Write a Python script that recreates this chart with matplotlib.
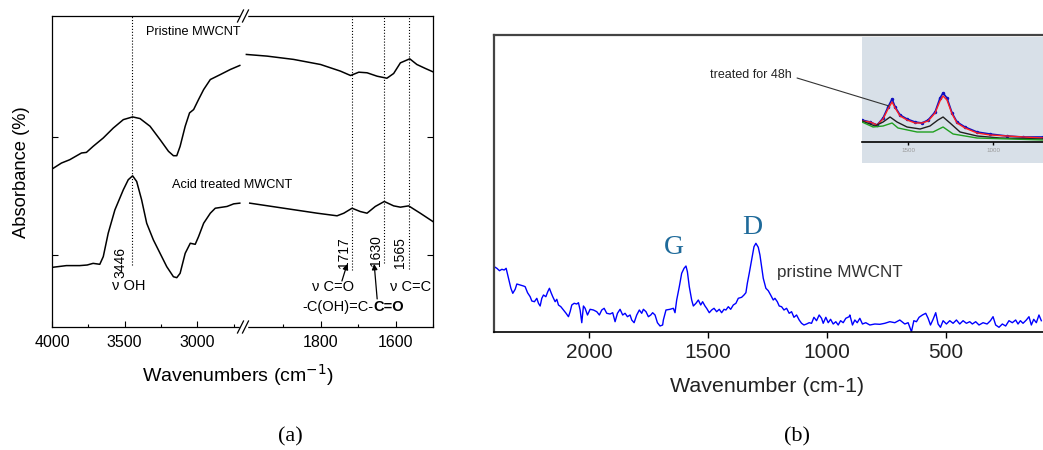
import matplotlib
matplotlib.use("Agg")
import matplotlib.pyplot as plt
from matplotlib.lines import Line2D

plt.rcParams['font.family'] = ['Liberation Sans', 'DejaVu Sans']

# ---- (a) FTIR data, two pieces of the broken wavenumber axis ----
pristine_wn_hi = [4000, 3935, 3878, 3797, 3763, 3717, 3647, 3578, 3509, 3445, 3394, 3325, 3256,
                  3198, 3164, 3141, 3118, 3083, 3053, 3025, 2991, 2956, 2910, 2841, 2772, 2707]
pristine_hi = [1.726, 1.777, 1.805, 1.862, 1.867, 1.918, 1.989, 2.073, 2.144, 2.167, 2.153, 2.088, 1.975,
               1.876, 1.839, 1.839, 1.918, 2.088, 2.201, 2.229, 2.314, 2.398, 2.483, 2.525, 2.568, 2.602]
pristine_wn_lo = [1998, 1943, 1872, 1800, 1747, 1720, 1698, 1676, 1649, 1623, 1605, 1587, 1562, 1543, 1520, 1500]
pristine_lo = [2.695, 2.681, 2.653, 2.610, 2.554, 2.517, 2.545, 2.540, 2.511, 2.494, 2.534, 2.624, 2.658,
               2.610, 2.576, 2.548]

acid_wn_hi = [4000, 3901, 3809, 3758, 3717, 3671, 3647, 3613, 3567, 3509, 3475, 3445, 3417, 3383, 3348,
              3302, 3256, 3210, 3164, 3141, 3118, 3083, 3048, 3014, 2991, 2956, 2910, 2876, 2795, 2749, 2707]
acid_hi = [0.895, 0.910, 0.910, 0.915, 0.929, 0.921, 0.986, 1.184, 1.381, 1.551, 1.636, 1.669, 1.621, 1.466,
           1.268, 1.127, 1.014, 0.901, 0.816, 0.808, 0.845, 1.014, 1.099, 1.090, 1.155, 1.268, 1.353, 1.395,
           1.410, 1.432, 1.438]
acid_wn_lo = [1989, 1898, 1809, 1756, 1738, 1716, 1694, 1676, 1654, 1630, 1605, 1587, 1565, 1534, 1500]
acid_lo = [1.438, 1.395, 1.353, 1.331, 1.353, 1.395, 1.367, 1.353, 1.410, 1.452, 1.415, 1.404, 1.415,
           1.353, 1.282]

band_hi = [3446]
band_lo = [1717, 1630, 1565]
band_bottom = {3446: 0.915, 1717: 0.873, 1630: 0.932, 1565: 0.88}

# ---- (b) Raman data ----
raman_wn = [2399, 2388, 2377, 2367, 2357, 2349, 2339, 2329, 2321, 2311, 2304, 2290, 2276, 2269, 2259,
            2248, 2241, 2230, 2220, 2213, 2206, 2199, 2192, 2182, 2174, 2167, 2160, 2153, 2143, 2136,
            2129, 2119, 2108, 2097, 2087, 2080, 2073, 2063, 2052, 2045, 2038, 2031, 2024, 2017, 2007,
            1996, 1982, 1968, 1957, 1947, 1937, 1926, 1912, 1901, 1891, 1881, 1870, 1859, 1849, 1839,
            1828, 1821, 1811, 1800, 1789, 1779, 1772, 1761, 1751, 1741, 1733, 1723, 1713, 1702, 1691,
            1688, 1677, 1660, 1646, 1639, 1632, 1621, 1611, 1601, 1593, 1587, 1579, 1569, 1562, 1551,
            1541, 1531, 1523, 1513, 1506, 1495, 1485, 1475, 1464, 1453, 1443, 1433, 1425, 1415, 1405,
            1394, 1383, 1373, 1359, 1349, 1341, 1335, 1327, 1317, 1307, 1299, 1289, 1282, 1275, 1268,
            1257, 1247, 1237, 1226, 1219, 1209, 1201, 1191, 1181, 1170, 1159, 1149, 1139, 1128, 1117,
            1107, 1097, 1086, 1075, 1065, 1055, 1044, 1033, 1023, 1016, 1005, 995, 985, 974, 963,
            953, 943, 932, 921, 907,
            904, 893, 883, 873, 862, 851, 837, 820, 799, 778, 757, 736, 715, 694, 673,
            659, 645, 635, 624, 613, 599, 585, 575, 565, 554, 543, 533, 523, 512, 498,
            484, 470, 456, 442, 428, 414, 400, 389, 375, 361, 344, 327, 313, 302, 291,
            277, 263, 249, 235, 221, 207, 197, 187, 176, 162, 151, 141, 131, 120, 109, 99]
raman_int = [65.3, 63.7, 61.3, 62.7, 62, 63.7, 53.7, 43.7, 38.7, 42.7, 48, 47, 46, 45.3, 39.3,
             35.3, 31, 30.3, 33.7, 28.7, 26, 33.7, 37, 35.3, 40.3, 43.7, 39.3, 35.3, 30.3, 32.7,
             27, 25.3, 22, 18.7, 15.3, 20.3, 27, 28.7, 28, 29.3, 22, 9.3, 26, 23.7, 17,
             22.7, 22, 20.3, 17, 22, 23.7, 18.7, 18, 19.3, 10.3, 18.7, 22.7, 17, 18.7, 15.3,
             17, 12, 9.3, 17, 22, 18.7, 22.7, 20.3, 15.3, 17, 19.3, 17, 9.3, 6, 7,
             12, 22, 22.7, 23.7, 19.3, 32, 45.3, 58.7, 63.7, 66, 60.3, 45.3, 32, 26, 28.7,
             32, 27, 30.3, 26, 23.7, 19.3, 22, 23.7, 20.3, 22.7, 19.3, 22.7, 22, 25.3, 22.7,
             27, 28.7, 33.7, 34.7, 37, 39.3, 48.7, 58.7, 72, 85.3, 88.7, 84.7, 77, 65.3, 53.7,
             43.7, 41.3, 37, 32, 33.7, 30.3, 26, 25.3, 22, 23.7, 18.7, 20.3, 14.7, 17, 12,
             8.7, 7, 8, 9.3, 8.7, 14.7, 11.3, 17, 13.7, 8.7, 14.7, 9.3, 12.7, 8, 10.3,
             7, 11.3, 9.3, 13.7, 15.3,
             17, 7, 12, 9.3, 13.7, 8, 9.3, 7, 8, 7.7, 8.7, 10.3, 9.3, 12, 8,
             9.3, 0.3, 11.3, 10.3, 14.7, 17, 18.7, 13.7, 7, 12.7, 19.3, 8, 4.7, 11.3, 8,
             11.3, 8.7, 12, 8, 11.3, 8.7, 10.3, 8, 10.3, 7, 9.3, 8, 11.3, 15.3, 7,
             4.7, 8, 6, 11.3, 9.3, 12, 8, 11.3, 8.7, 12, 15.3, 7, 12.7, 9.3, 17, 11.3]

# inset: treatment series
inset_wn = [1771, 1724, 1682, 1647, 1618, 1594, 1576, 1547, 1506, 1459, 1418, 1382, 1341, 1312, 1294,
            1271, 1241, 1212, 1165, 1094, 1018, 918, 824, 706]
inset_blue = [22, 20, 17, 24, 35, 43, 35, 27, 23, 20, 19, 22, 30, 44, 49, 44, 29, 20, 15, 10, 8, 6, 5, 5]
inset_red = [21, 20, 17, 23, 33, 40, 34, 26, 22, 19, 19, 21, 29, 41, 46, 42, 28, 19, 14, 9, 7, 6, 5, 4]
black_wn = [1771, 1694, 1647, 1606, 1565, 1506, 1429, 1371, 1324, 1294, 1253, 1194, 1094, 959, 706]
inset_black = [21, 16, 20, 25, 20, 15, 13, 16, 22, 25, 19, 10, 6, 4, 3]
green_wn = [1771, 1706, 1647, 1594, 1559, 1447, 1353, 1294, 1235, 1094, 706]
inset_green = [20, 15, 16, 19, 14, 10, 10, 15, 8, 4, 2]

W, H = 1043, 450
fig = plt.figure(figsize=(W / 100, H / 100), dpi=100)

# ================= (a) =================
axL = fig.add_axes([52 / W, 1 - 327 / H, 191 / W, 311 / H])
axR = fig.add_axes([243 / W, 1 - 327 / H, 190 / W, 311 / H])
for ax in (axL, axR):
    ax.patch.set_visible(False)
    ax.set_ylim(0.391, 3.02)
    ax.set_yticks([1, 2])
    ax.set_yticklabels([])
    for s in ax.spines.values():
        s.set_linewidth(0.9)
    ax.tick_params(direction='in', length=4, width=0.8, labelsize=11.5, pad=6)
    ax.tick_params(which='minor', direction='in', length=2.5, width=0.8)
axL.spines['right'].set_visible(False)
axR.spines['left'].set_visible(False)
axR.yaxis.tick_right()
axR.tick_params(axis='y', direction='in', length=4)

axL.set_xlim(4000, 2685)
axR.set_xlim(2007, 1500)
axL.set_xticks([4000, 3500, 3000])
axL.set_xticks([3750, 3250, 2750], minor=True)
axR.set_xticks([1800, 1600])
axR.set_xticks([1900, 1700, 1500], minor=True)

axL.plot(pristine_wn_hi, pristine_hi, color='k', lw=1.1)
axL.plot(acid_wn_hi, acid_hi, color='k', lw=1.1)
axR.plot(pristine_wn_lo, pristine_lo, color='k', lw=1.1)
axR.plot(acid_wn_lo, acid_lo, color='k', lw=1.1)

for b in band_hi:
    axL.vlines(b, band_bottom[b], 3.02, colors='k', linestyles=':', lw=0.8)
for b in band_lo:
    axR.vlines(b, band_bottom[b], 3.02, colors='k', linestyles=':', lw=0.8)

# axis break marks
for yb in (16, 327):
    fig.add_artist(Line2D([240.5 / W, 245.5 / W], [1 - yb / H] * 2, color='white', lw=2.5))
    for dx in (-2.5, 2.5):
        fig.add_artist(Line2D([(243 + dx - 3) / W, (243 + dx + 3) / W],
                              [1 - (yb + 6) / H, 1 - (yb - 6) / H], color='k', lw=0.9))

axL.text(2700, 2.881, 'Pristine MWCNT', ha='right', va='center', fontsize=9.2)
axL.text(3174, 1.592, 'Acid treated MWCNT', ha='left', va='center', fontsize=9.2)
axL.text(3532, 0.94, '3446', rotation=90, ha='center', va='center', fontsize=10)
axL.text(3470, 0.738, 'ν OH', ha='center', va='center', fontsize=10.5)

axR.text(1737, 1.017, '1717', rotation=90, ha='center', va='center', fontsize=10)
axR.text(1652, 1.034, '1630', rotation=90, ha='center', va='center', fontsize=10)
axR.text(1588, 1.017, '1565', rotation=90, ha='center', va='center', fontsize=10)
axR.text(1767, 0.73, 'ν C=O', ha='center', va='center', fontsize=10.5)
axR.text(1561, 0.73, 'ν C=C', ha='center', va='center', fontsize=10.5)
axR.text(1660, 0.56, '-C(OH)=C-', ha='right', va='center', fontsize=10.5)
axR.text(1660, 0.56, 'C=O', ha='left', va='center', fontsize=10.5, fontweight='bold')
axR.annotate('', xy=(1729, 0.924), xytext=(1743, 0.78),
             arrowprops=dict(arrowstyle='-|>', lw=0.9, color='k', mutation_scale=8, shrinkA=0, shrinkB=0))
axR.annotate('', xy=(1657, 0.924), xytext=(1649, 0.628),
             arrowprops=dict(arrowstyle='-|>', lw=0.9, color='k', mutation_scale=8, shrinkA=0, shrinkB=0))

fig.text(22 / W, 1 - 172 / H, 'Absorbance (%)', rotation=90, ha='center', va='center', fontsize=13.2)
fig.text(238 / W, 1 - 375 / H, 'Wavenumbers (cm$^{-1}$)', ha='center', va='center', fontsize=14)

# ================= (b) =================
axB = fig.add_axes([494 / W, 1 - 332 / H, 549 / W, 297 / H])
axB.plot(raman_wn, raman_int, color='#0000ff', lw=1.0)
axB.set_xlim(2400, 92)
axB.set_ylim(0, 297)
axB.set_yticks([])
axB.set_xticks([2000, 1500, 1000, 500])
axB.tick_params(axis='x', direction='out', length=4, width=1, labelsize=15, pad=4, labelcolor='#222222')
axB.spines['right'].set_visible(False)
axB.spines['left'].set_color('#444444')
axB.spines['left'].set_linewidth(1.6)
axB.spines['top'].set_color('#444444')
axB.spines['top'].set_linewidth(1.6)
axB.spines['bottom'].set_linewidth(1.2)

axB.text(1643, 85, 'G', family='Liberation Serif', fontsize=20, color='#1e6a9a', ha='center', va='center')
axB.text(1315, 104, 'D', family='Liberation Serif', fontsize=20, color='#1e6a9a', ha='center', va='center')
axB.text(1210, 60, 'pristine MWCNT', fontsize=12.3, color='#333333', ha='left', va='center')
axB.text(1492, 257, 'treated for 48h', fontsize=9, color='#222222', ha='left', va='center')

fig.text(767 / W, 1 - 387 / H, 'Wavenumber (cm-1)', ha='center', va='center', fontsize=15.4, color='#222222')

# inset
axI = fig.add_axes([862 / W, 1 - 163 / H, 181 / W, 126 / H], facecolor='#d8e0e8')
axI.plot(inset_wn, inset_blue, color='#1010c0', lw=1.2, marker='o', ms=1.5)
axI.plot(inset_wn, inset_red, color='#ff2020', lw=1.0)
axI.plot(black_wn, inset_black, color='#202020', lw=1.0)
axI.plot(green_wn, inset_green, color='#20a020', lw=1.0)
axI.set_xlim(1771, 706)
axI.set_ylim(-21, 105)
for s in ('top', 'left', 'right'):
    axI.spines[s].set_visible(False)
axI.spines['bottom'].set_position(('data', 0))
axI.spines['bottom'].set_linewidth(1.2)
axI.set_yticks([])
axI.set_xticks([1500, 1000])
axI.tick_params(axis='x', direction='out', length=2, width=1, labelsize=4.5, labelcolor='#999999', pad=2)
axI.annotate('', xy=(1612, 36), xycoords='data', xytext=(1126, 254), textcoords=axB.transData,
             arrowprops=dict(arrowstyle='-', lw=0.8, color='#333333', shrinkA=0, shrinkB=0),
             annotation_clip=False)

fig.text(290 / W, 1 - 437 / H, '(a)', family='Liberation Serif', fontsize=16, ha='center', va='center')
fig.text(797 / W, 1 - 437 / H, '(b)', family='Liberation Serif', fontsize=16, ha='center', va='center')

fig.savefig('out.png', dpi=100)
